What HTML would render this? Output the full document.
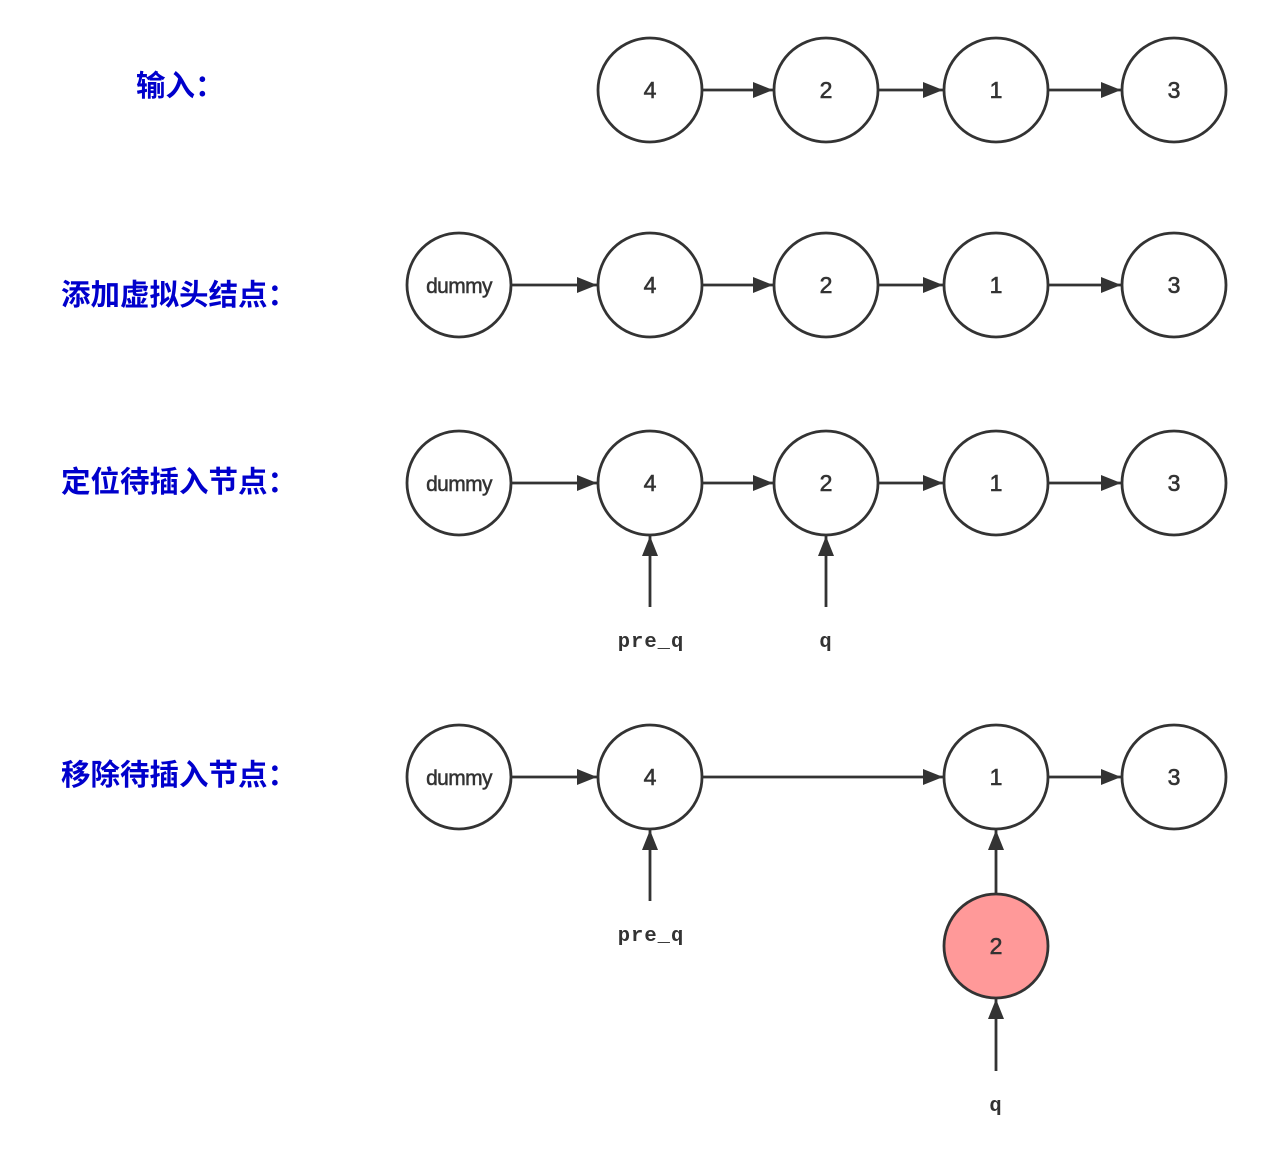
<!DOCTYPE html>
<html>
<head>
<meta charset="utf-8">
<style>
html,body{margin:0;padding:0;background:#fff;}
svg{display:block;}
.lbl{font-family:"Liberation Sans","Noto Sans CJK SC",sans-serif;font-weight:bold;font-size:29.5px;fill:#0000CC;}
.num{font-family:"Liberation Sans",sans-serif;font-size:23px;fill:#333;stroke:#333;stroke-width:0.6;text-anchor:middle;}
.dm{font-family:"Liberation Sans",sans-serif;font-size:21px;fill:#333;stroke:#333;stroke-width:0.5;text-anchor:middle;letter-spacing:-0.6px;}
.ptr{font-family:"Liberation Mono",monospace;font-weight:bold;font-size:20.5px;fill:#333;text-anchor:middle;letter-spacing:1px;}
</style>
</head>
<body>
<svg width="1265" height="1170" viewBox="0 0 1265 1170" xmlns="http://www.w3.org/2000/svg">
<defs>
<marker id="ah" markerWidth="20" markerHeight="16" refX="20" refY="8" orient="auto" markerUnits="userSpaceOnUse">
<path d="M0,0 L20,8 L0,16 Z" fill="#333"/>
</marker>
</defs>

<!-- labels -->
<text class="lbl" x="136" y="96">输入：</text>
<text class="lbl" x="61" y="305">添加虚拟头结点：</text>
<text class="lbl" x="61" y="492">定位待插入节点：</text>
<text class="lbl" x="61" y="785">移除待插入节点：</text>

<g stroke="#333" stroke-width="2.8" fill="none">
<!-- row 1 -->
<circle cx="650" cy="90" r="52" fill="#fff"/>
<circle cx="826" cy="90" r="52" fill="#fff"/>
<circle cx="996" cy="90" r="52" fill="#fff"/>
<circle cx="1174" cy="90" r="52" fill="#fff"/>
<line x1="703" y1="90" x2="773" y2="90" marker-end="url(#ah)"/>
<line x1="879" y1="90" x2="943" y2="90" marker-end="url(#ah)"/>
<line x1="1049" y1="90" x2="1121" y2="90" marker-end="url(#ah)"/>

<!-- row 2 -->
<circle cx="459" cy="285" r="52" fill="#fff"/>
<circle cx="650" cy="285" r="52" fill="#fff"/>
<circle cx="826" cy="285" r="52" fill="#fff"/>
<circle cx="996" cy="285" r="52" fill="#fff"/>
<circle cx="1174" cy="285" r="52" fill="#fff"/>
<line x1="512" y1="285" x2="597" y2="285" marker-end="url(#ah)"/>
<line x1="703" y1="285" x2="773" y2="285" marker-end="url(#ah)"/>
<line x1="879" y1="285" x2="943" y2="285" marker-end="url(#ah)"/>
<line x1="1049" y1="285" x2="1121" y2="285" marker-end="url(#ah)"/>

<!-- row 3 -->
<circle cx="459" cy="483" r="52" fill="#fff"/>
<circle cx="650" cy="483" r="52" fill="#fff"/>
<circle cx="826" cy="483" r="52" fill="#fff"/>
<circle cx="996" cy="483" r="52" fill="#fff"/>
<circle cx="1174" cy="483" r="52" fill="#fff"/>
<line x1="512" y1="483" x2="597" y2="483" marker-end="url(#ah)"/>
<line x1="703" y1="483" x2="773" y2="483" marker-end="url(#ah)"/>
<line x1="879" y1="483" x2="943" y2="483" marker-end="url(#ah)"/>
<line x1="1049" y1="483" x2="1121" y2="483" marker-end="url(#ah)"/>
<line x1="650" y1="607" x2="650" y2="536" marker-end="url(#ah)"/>
<line x1="826" y1="607" x2="826" y2="536" marker-end="url(#ah)"/>

<!-- row 4 -->
<circle cx="459" cy="777" r="52" fill="#fff"/>
<circle cx="650" cy="777" r="52" fill="#fff"/>
<circle cx="996" cy="777" r="52" fill="#fff"/>
<circle cx="1174" cy="777" r="52" fill="#fff"/>
<circle cx="996" cy="946" r="52" fill="#FF9999"/>
<line x1="512" y1="777" x2="597" y2="777" marker-end="url(#ah)"/>
<line x1="703" y1="777" x2="943" y2="777" marker-end="url(#ah)"/>
<line x1="1049" y1="777" x2="1121" y2="777" marker-end="url(#ah)"/>
<line x1="650" y1="901" x2="650" y2="830" marker-end="url(#ah)"/>
<line x1="996" y1="894" x2="996" y2="830" marker-end="url(#ah)"/>
<line x1="996" y1="1071" x2="996" y2="999" marker-end="url(#ah)"/>
</g>

<!-- node text -->
<text class="num" x="650" y="98">4</text>
<text class="num" x="826" y="98">2</text>
<text class="num" x="996" y="98">1</text>
<text class="num" x="1174" y="98">3</text>

<text class="dm" x="459" y="293">dummy</text>
<text class="num" x="650" y="293">4</text>
<text class="num" x="826" y="293">2</text>
<text class="num" x="996" y="293">1</text>
<text class="num" x="1174" y="293">3</text>

<text class="dm" x="459" y="491">dummy</text>
<text class="num" x="650" y="491">4</text>
<text class="num" x="826" y="491">2</text>
<text class="num" x="996" y="491">1</text>
<text class="num" x="1174" y="491">3</text>

<text class="dm" x="459" y="785">dummy</text>
<text class="num" x="650" y="785">4</text>
<text class="num" x="996" y="785">1</text>
<text class="num" x="1174" y="785">3</text>
<text class="num" x="996" y="954">2</text>

<!-- pointer labels -->
<text class="ptr" x="651" y="647">pre_q</text>
<text class="ptr" x="826" y="647">q</text>
<text class="ptr" x="651" y="941">pre_q</text>
<text class="ptr" x="996" y="1111">q</text>
</svg>
</body>
</html>
